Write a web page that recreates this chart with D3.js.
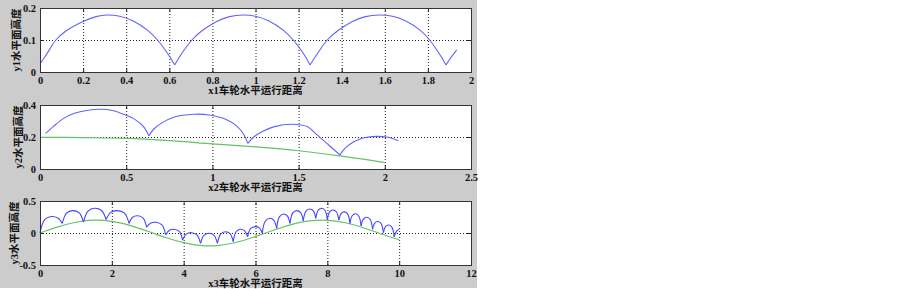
<!DOCTYPE html>
<html>
<head>
<meta charset="utf-8">
<script src="https://cdn.jsdelivr.net/npm/d3@7"></script>
<style>
  body { margin: 0; background: #fff; }
  svg { display: block; }
</style>
</head>
<body>
<div id="chart"></div>
<script>
// ---- panel 1 : flat road ----
const x1Ticks = [0, 0.2, 0.4, 0.6, 0.8, 1, 1.2, 1.4, 1.6, 1.8, 2];
const y1Ticks = [0, 0.1, 0.2];
const wheel1 = [
  [[0, 0.025], [0.03, 0.055], [0.074, 0.1], [0.12, 0.128], [0.2, 0.158], [0.26, 0.173], [0.31, 0.178],
   [0.37, 0.174], [0.43, 0.16], [0.5, 0.13], [0.545, 0.1], [0.59, 0.06], [0.625, 0.022]],
  [[0.625, 0.022], [0.66, 0.06], [0.705, 0.1], [0.75, 0.128], [0.82, 0.158], [0.88, 0.173], [0.94, 0.178],
   [1.0, 0.174], [1.06, 0.16], [1.13, 0.13], [1.175, 0.1], [1.22, 0.06], [1.253, 0.022]],
  [[1.253, 0.022], [1.29, 0.06], [1.333, 0.1], [1.38, 0.128], [1.45, 0.158], [1.51, 0.173], [1.575, 0.178],
   [1.635, 0.174], [1.695, 0.16], [1.765, 0.13], [1.808, 0.1], [1.85, 0.06], [1.884, 0.022]],
  [[1.884, 0.022], [1.91, 0.048], [1.934, 0.069]]
];

// ---- panel 2 : sloping road ----
const x2Ticks = [0, 0.5, 1, 1.5, 2, 2.5];
const y2Ticks = [0, 0.2, 0.4];
const road2 = [[0, 0.198], [0.25, 0.196], [0.5, 0.191], [0.75, 0.177], [1.0, 0.157],
  [1.25, 0.138], [1.5, 0.114], [1.75, 0.08], [2.0, 0.04]];
const wheel2 = [
  [[0.033, 0.223], [0.08, 0.268], [0.14, 0.318], [0.2, 0.348], [0.27, 0.366], [0.348, 0.373],
   [0.42, 0.366], [0.49, 0.34], [0.55, 0.31], [0.6, 0.265], [0.632, 0.208]],
  [[0.632, 0.208], [0.66, 0.25], [0.71, 0.29], [0.78, 0.325], [0.89, 0.342], [0.98, 0.338],
   [1.08, 0.31], [1.14, 0.27], [1.18, 0.22], [1.205, 0.16]],
  [[1.205, 0.16], [1.24, 0.2], [1.29, 0.235], [1.36, 0.265], [1.46, 0.28], [1.55, 0.265],
   [1.605, 0.215], [1.675, 0.15], [1.74, 0.0875]],
  [[1.74, 0.0875], [1.77, 0.13], [1.82, 0.17], [1.88, 0.195], [1.953, 0.204], [2.02, 0.198], [2.078, 0.177]]
];

// ---- panel 3 : wavy road ----
const x3Ticks = [0, 2, 4, 6, 8, 10, 12];
const y3Ticks = [-0.5, 0, 0.5];
const road3 = [[0, 0], [0.5, 0.096], [1, 0.168], [1.5, 0.2], [2, 0.182], [2.5, 0.12], [3, 0.028],
  [3.5, -0.07], [4, -0.151], [4.5, -0.196], [5, -0.192], [5.5, -0.141], [6, -0.056], [6.5, 0.043],
  [7, 0.131], [7.5, 0.188], [8, 0.198], [8.5, 0.16], [9, 0.082], [9.5, -0.015], [10, -0.105]];
const wheel3 = [
  [[0, 0], [0.124, 0.204], [0.28, 0.255], [0.496, 0.234], [0.62, 0.15]],
  [[0.62, 0.15], [0.738, 0.31], [0.91, 0.35], [1.092, 0.314], [1.21, 0.17]],
  [[1.21, 0.17], [1.336, 0.343], [1.52, 0.386], [1.714, 0.351], [1.84, 0.21]],
  [[1.84, 0.21], [1.968, 0.322], [2.15, 0.35], [2.352, 0.31], [2.48, 0.15]],
  [[2.48, 0.15], [2.578, 0.246], [2.72, 0.27], [2.872, 0.234], [2.97, 0.09]],
  [[2.97, 0.09], [3.076, 0.152], [3.22, 0.167], [3.394, 0.128], [3.5, -0.03]],
  [[3.5, -0.03], [3.594, 0.04], [3.72, 0.058], [3.876, 0.024], [3.97, -0.11]],
  [[3.97, -0.11], [4.07, -0.018], [4.22, 0.005], [4.37, -0.028], [4.47, -0.16]],
  [[4.47, -0.16], [4.564, -0.036], [4.71, -0.005], [4.846, -0.036], [4.94, -0.16]],
  [[4.94, -0.16], [5.028, -0.016], [5.16, 0.02], [5.292, -0.011], [5.38, -0.135]],
  [[5.38, -0.135], [5.46, 0.019], [5.58, 0.058], [5.7, 0.034], [5.78, -0.06]],
  [[5.78, -0.06], [5.862, 0.068], [5.99, 0.1], [6.108, 0.079], [6.19, -0.005]],
  [[6.19, -0.005], [6.27, 0.183], [6.4, 0.23], [6.51, 0.199], [6.59, 0.073]],
  [[6.59, 0.073], [6.664, 0.252], [6.78, 0.297], [6.886, 0.268], [6.96, 0.15]],
  [[6.96, 0.15], [7.034, 0.31], [7.15, 0.35], [7.256, 0.318], [7.33, 0.19]],
  [[7.33, 0.19], [7.4, 0.338], [7.51, 0.375], [7.61, 0.346], [7.68, 0.23]],
  [[7.68, 0.23], [7.744, 0.355], [7.85, 0.386], [7.936, 0.351], [8.0, 0.21]],
  [[8.0, 0.21], [8.064, 0.33], [8.16, 0.36], [8.256, 0.328], [8.32, 0.2]],
  [[8.32, 0.2], [8.382, 0.304], [8.47, 0.33], [8.568, 0.294], [8.63, 0.15]],
  [[8.63, 0.15], [8.692, 0.27], [8.79, 0.3], [8.878, 0.262], [8.94, 0.11]],
  [[8.94, 0.11], [9.004, 0.218], [9.1, 0.245], [9.196, 0.208], [9.26, 0.058]],
  [[9.26, 0.058], [9.32, 0.156], [9.41, 0.18], [9.5, 0.145], [9.56, 0.005]],
  [[9.56, 0.005], [9.62, 0.101], [9.71, 0.125], [9.8, 0.088], [9.86, -0.058]],
  [[9.86, -0.058], [9.93, 0.03], [10.0, 0.058]]
];

const width = 902, height = 289;
const figW = 477, figH = 288;
const left = 40, right = 471;

const panels = [
  { top: 8, bottom: 72, xd: [0, 2], yd: [0, 0.2], xt: x1Ticks, yt: y1Ticks, blue: "#6262ff",
    wheel: wheel1, road: null, xlab: "x1车轮水平运行距离", ylab: "y1水平面高度", ylx: 20 },
  { top: 105, bottom: 169, xd: [0, 2.5], yd: [0, 0.4], xt: x2Ticks, yt: y2Ticks, blue: "#6262ff",
    wheel: wheel2, road: road2, xlab: "x2车轮水平运行距离", ylab: "y2水平面高度", ylx: 21.5 },
  { top: 201, bottom: 265, xd: [0, 12], yd: [-0.5, 0.5], xt: x3Ticks, yt: y3Ticks, blue: "#4444ff",
    wheel: wheel3, road: road3, xlab: "x3车轮水平运行距离", ylab: "y3水平面高度", ylx: 18 }
];

const svg = d3.select("#chart").append("svg")
  .attr("width", width)
  .attr("height", height);

svg.append("rect")
  .attr("width", figW)
  .attr("height", figH)
  .attr("fill", "#cccccc");

const numFont = "'Liberation Serif', 'Times New Roman', serif";
const cjkFont = "'Liberation Serif', 'Noto Sans CJK SC', serif";

panels.forEach(function (p) {
  const x = d3.scaleLinear().domain(p.xd).range([left, right]);
  const y = d3.scaleLinear().domain(p.yd).range([p.bottom, p.top]);
  const g = svg.append("g");

  g.append("rect")
    .attr("x", left).attr("y", p.top)
    .attr("width", right - left).attr("height", p.bottom - p.top)
    .attr("fill", "#fff");

  // dotted grid
  g.selectAll(".gx").data(p.xt.slice(1, -1)).enter().append("line")
    .attr("x1", d => x(d) + 0.5).attr("x2", d => x(d) + 0.5)
    .attr("y1", p.top).attr("y2", p.bottom)
    .attr("stroke", "#222").attr("stroke-width", 1).attr("stroke-dasharray", "1,2");
  g.selectAll(".gy").data(p.yt.slice(1, -1)).enter().append("line")
    .attr("x1", left).attr("x2", right)
    .attr("y1", d => y(d) + 0.5).attr("y2", d => y(d) + 0.5)
    .attr("stroke", "#222").attr("stroke-width", 1).attr("stroke-dasharray", "1,2");

  // inward tick marks
  p.xt.forEach(function (d) {
    g.append("line").attr("x1", x(d) + 0.5).attr("x2", x(d) + 0.5)
      .attr("y1", p.bottom).attr("y2", p.bottom - 4).attr("stroke", "#222");
    g.append("line").attr("x1", x(d) + 0.5).attr("x2", x(d) + 0.5)
      .attr("y1", p.top).attr("y2", p.top + 4).attr("stroke", "#222");
  });
  p.yt.forEach(function (d) {
    g.append("line").attr("x1", left).attr("x2", left + 4)
      .attr("y1", y(d) + 0.5).attr("y2", y(d) + 0.5).attr("stroke", "#222");
    g.append("line").attr("x1", right).attr("x2", right - 4)
      .attr("y1", y(d) + 0.5).attr("y2", y(d) + 0.5).attr("stroke", "#222");
  });

  const line = d3.line()
    .x(d => x(d[0]))
    .y(d => y(d[1]))
    .curve(d3.curveCatmullRom.alpha(0.5));

  if (p.road) {
    g.append("path")
      .attr("d", line(p.road))
      .attr("fill", "none")
      .attr("stroke", "#66c266")
      .attr("stroke-width", 1.2);
  }

  g.selectAll(".arc").data(p.wheel).enter().append("path")
    .attr("d", line)
    .attr("fill", "none")
    .attr("stroke", p.blue)
    .attr("stroke-width", 1.1);

  // box
  g.append("rect")
    .attr("x", left + 0.5).attr("y", p.top + 0.5)
    .attr("width", right - left).attr("height", p.bottom - p.top)
    .attr("fill", "none").attr("stroke", "#333");

  // tick labels
  const xa = g.append("g")
    .attr("transform", "translate(0," + (p.bottom + 1) + ")")
    .call(d3.axisBottom(x).tickValues(p.xt).tickSize(0).tickPadding(4).tickFormat(d => String(d)));
  const ya = g.append("g")
    .attr("transform", "translate(" + (left - 1) + ",0)")
    .call(d3.axisLeft(y).tickValues(p.yt).tickSize(0).tickPadding(3).tickFormat(d => String(d)));
  [xa, ya].forEach(function (a) {
    a.select(".domain").remove();
    a.selectAll("text")
      .attr("fill", "#111")
      .style("font-family", numFont)
      .style("font-weight", "bold")
      .style("font-size", "10.5px");
  });

  g.append("text")
    .attr("x", (left + right) / 2)
    .attr("y", p.bottom + 22)
    .attr("text-anchor", "middle")
    .style("font-family", cjkFont)
    .style("font-weight", "bold")
    .style("font-size", "10.5px")
    .attr("fill", "#111")
    .text(p.xlab);

  g.append("text")
    .attr("transform", "translate(" + p.ylx + "," + ((p.top + p.bottom) / 2) + ") rotate(-90)")
    .attr("text-anchor", "middle")
    .style("font-family", cjkFont)
    .style("font-weight", "bold")
    .style("font-size", "10.5px")
    .attr("fill", "#111")
    .text(p.ylab);
});
</script>
</body>
</html>
